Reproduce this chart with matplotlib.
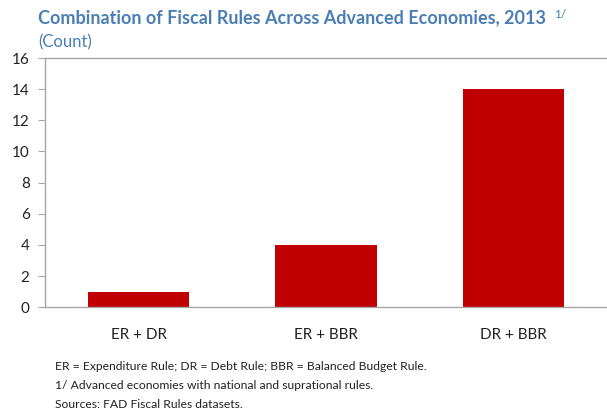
import matplotlib
matplotlib.use("Agg")
import matplotlib.pyplot as plt

categories = ["ER + DR", "ER + BBR", "DR + BBR"]
counts = [1, 4, 14]
y_ticks = [0, 2, 4, 6, 8, 10, 12, 14, 16]

title = "Combination of Fiscal Rules Across Advanced Economies, 2013"
title_note = "1/"
subtitle = "(Count)"
notes = [
    "ER = Expenditure Rule; DR = Debt Rule; BBR = Balanced Budget Rule.",
    "1/ Advanced economies with national and suprational rules.",
    "Sources: FAD Fiscal Rules datasets.",
]

plt.rcParams["font.family"] = ["Lato", "DejaVu Sans"]

fig = plt.figure(figsize=(6.07, 4.09), dpi=100)
ax = fig.add_axes([0.074, 0.249, 0.926, 0.609])

x = range(len(categories))
ax.bar(x, counts, width=0.54, color="#C00000")
ax.set_xlim(-0.5, 2.5)
ax.set_ylim(0, 16)
ax.set_yticks(y_ticks)
ax.set_xticks(list(x))
ax.set_xticklabels(categories)

ax.spines["right"].set_visible(False)
for side in ("left", "top", "bottom"):
    ax.spines[side].set_color("#a6a6a6")
    ax.spines[side].set_linewidth(1.0)

ax.tick_params(axis="y", length=5, color="#a6a6a6", labelsize=11, pad=6, labelcolor="#222222")
ax.tick_params(axis="x", length=0, labelsize=11, pad=15, labelcolor="#222222")

blue = "#4a7eb5"
t = fig.text(38 / 607, 1 - 18 / 409, title, fontsize=13, fontweight="bold", color=blue, va="center")
fig.canvas.draw()
bb = t.get_window_extent()
fig.text(bb.x1 / fig.bbox.width + 8 / 607, 1 - 14 / 409, title_note, fontsize=8.5, color=blue, va="center")
fig.text(38 / 607, 1 - 42 / 409, subtitle, fontsize=12, color=blue, va="center")

for i, line in enumerate(notes):
    fig.text(55 / 607, 1 - (367 + 18.5 * i) / 409, line, fontsize=8.7, color="#222222", va="center")

fig.savefig("out.png", dpi=100)
